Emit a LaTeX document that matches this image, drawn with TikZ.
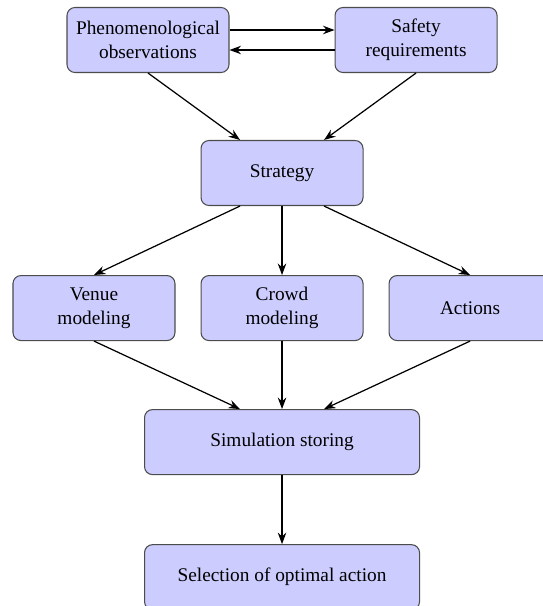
\documentclass[tikz,border=0pt]{standalone}
\usepackage{fontspec}
\setmainfont{Liberation Serif}
\usepackage{tikz}
\usetikzlibrary{positioning, arrows.meta, calc}
\usepackage{xcolor}

\begin{document}
\begin{tikzpicture}[
    node distance=1.36cm and 0.5cm,
    box/.style={rectangle, draw=black!70, fill=blue!20, rounded corners=1.6mm,
                line width=0.6pt, align=center, minimum width=3.24cm,
                minimum height=1.3cm, font=\rmfamily\fontsize{11}{13.6}\selectfont},
    widebox/.style={box, minimum width=5.5cm},
    link/.style={-{Stealth[length=2.3mm, width=1.7mm]}, line width=0.7pt}
]
\useasboundingbox (0,0) rectangle (10.84,-12.12);

\node[box] (phen) at (2.96,-0.80) {Phenomenological\\observations};
\node[box, right=2.1cm of phen] (safety) {Safety\\requirements};
\node[box] (strategy) at ($(phen)!0.5!(safety)+(0,-2.66)$) {Strategy};
\node[box, below=1.38cm of strategy] (crowd) {Crowd\\modeling};
\node[box, left=of crowd] (venue) {Venue\\modeling};
\node[box, right=of crowd] (actions) {Actions};
\node[widebox, below=of crowd] (sim) {Simulation storing};
\node[widebox, below=1.38cm of sim] (select) {Selection of optimal action};

% feedback between the two inputs
\draw[link] ([yshift=0.2cm]phen.east) -- ([yshift=0.2cm]safety.west);
\draw[link] ([yshift=-0.2cm]safety.west) -- ([yshift=-0.2cm]phen.east);

\draw[link] (phen.south) -- ([xshift=-0.84cm]strategy.north);
\draw[link] (safety.south) -- ([xshift=0.84cm]strategy.north);

\draw[link] ([xshift=-0.84cm]strategy.south) -- (venue.north);
\draw[link] (strategy.south) -- (crowd.north);
\draw[link] ([xshift=0.84cm]strategy.south) -- (actions.north);

\draw[link] (venue.south) -- ([xshift=-0.84cm]sim.north);
\draw[link] (crowd.south) -- (sim.north);
\draw[link] (actions.south) -- ([xshift=0.84cm]sim.north);

\draw[link] (sim.south) -- (select.north);
\end{tikzpicture}
\end{document}
